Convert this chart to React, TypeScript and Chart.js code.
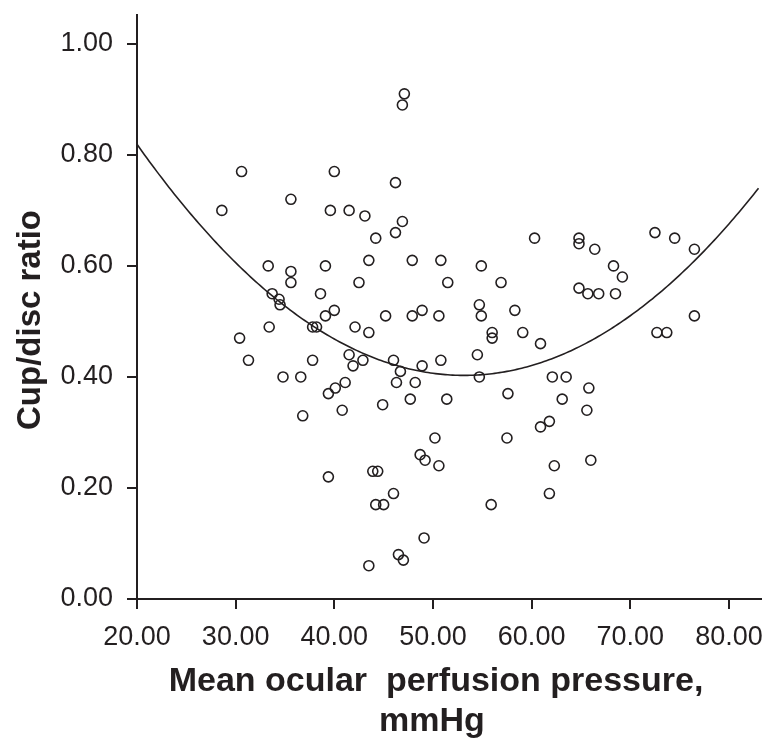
import { useEffect, useRef } from "react";
import { Chart, registerables } from "chart.js";

Chart.register(...registerables);

// Mean ocular perfusion pressure (mmHg)
const pressure = [
  47.1, 46.9, 30.6, 40.0, 46.2, 28.6, 35.6, 39.6, 41.5, 43.1,
  46.9, 46.2, 44.2, 33.3, 35.6, 35.6, 39.1, 43.5, 47.9, 50.8,
  42.5, 51.5, 33.7, 34.4, 34.5, 38.6, 39.1, 40.0, 45.2, 47.9,
  48.9, 50.6, 72.5, 74.5, 76.5, 60.3, 64.8, 64.8, 66.4, 68.3,
  69.2, 64.8, 65.7, 66.8, 68.5, 54.9, 56.9, 54.7, 54.9, 58.3,
  76.5, 30.4, 33.4, 31.3, 37.8, 38.2, 42.1, 43.5, 37.8, 41.5,
  42.9, 41.9, 46.0, 46.7, 48.9, 50.8, 34.8, 36.6, 39.4, 40.1,
  41.1, 46.3, 48.2, 47.7, 44.9, 40.8, 36.8, 51.4, 50.2, 48.7,
  49.2, 50.6, 39.4, 43.9, 44.4, 46.0, 44.2, 45.0, 49.1, 46.5,
  47.0, 43.5, 56.0, 56.0, 59.1, 60.9, 72.7, 73.7, 54.5, 54.7,
  62.1, 63.5, 65.8, 57.6, 63.1, 65.6, 61.8, 60.9, 57.5, 62.3,
  66.0, 61.8, 55.9,
];

// Cup/disc ratio
const cupDisc = [
  0.91, 0.89, 0.77, 0.77, 0.75, 0.70, 0.72, 0.70, 0.70, 0.69,
  0.68, 0.66, 0.65, 0.60, 0.59, 0.57, 0.60, 0.61, 0.61, 0.61,
  0.57, 0.57, 0.55, 0.54, 0.53, 0.55, 0.51, 0.52, 0.51, 0.51,
  0.52, 0.51, 0.66, 0.65, 0.63, 0.65, 0.65, 0.64, 0.63, 0.60,
  0.58, 0.56, 0.55, 0.55, 0.55, 0.60, 0.57, 0.53, 0.51, 0.52,
  0.51, 0.47, 0.49, 0.43, 0.49, 0.49, 0.49, 0.48, 0.43, 0.44,
  0.43, 0.42, 0.43, 0.41, 0.42, 0.43, 0.40, 0.40, 0.37, 0.38,
  0.39, 0.39, 0.39, 0.36, 0.35, 0.34, 0.33, 0.36, 0.29, 0.26,
  0.25, 0.24, 0.22, 0.23, 0.23, 0.19, 0.17, 0.17, 0.11, 0.08,
  0.07, 0.06, 0.48, 0.47, 0.48, 0.46, 0.48, 0.48, 0.44, 0.40,
  0.40, 0.40, 0.38, 0.37, 0.36, 0.34, 0.32, 0.31, 0.29, 0.24,
  0.25, 0.19, 0.17,
];

const xTicks = [20, 30, 40, 50, 60, 70, 80];
const yTicks = [0, 0.2, 0.4, 0.6, 0.8, 1.0];

// Quadratic fit line: y = c0 + c1*x + c2*x^2
const fitCoefficients = [1.4726, -0.04025, 0.0003786];
const fitRange = [20, 83.1];

const xTitleLines = ["Mean ocular  perfusion pressure,", "mmHg"];
const yTitle = "Cup/disc ratio";

const INK = "#231f20";
const FONT = '"Liberation Sans", Arial, Helvetica, sans-serif';

export default function App() {
  const canvasRef = useRef<HTMLCanvasElement | null>(null);

  useEffect(() => {
    const canvas = canvasRef.current;
    if (!canvas) return;

    const points = pressure.map((x, i) => ({ x, y: cupDisc[i] }));
    const curve: { x: number; y: number }[] = [];
    for (let x = fitRange[0]; x <= fitRange[1] + 1e-9; x += 0.25) {
      curve.push({
        x,
        y: fitCoefficients[0] + fitCoefficients[1] * x + fitCoefficients[2] * x * x,
      });
    }

    const titlePlugin = {
      id: "axisTitles",
      afterDraw(chart: any) {
        const ctx = chart.ctx as CanvasRenderingContext2D;
        ctx.save();
        ctx.fillStyle = INK;
        ctx.font = `bold 34px ${FONT}`;
        ctx.textAlign = "center";
        ctx.textBaseline = "alphabetic";
        ctx.fillText(xTitleLines[0], 436, 691);
        ctx.fillText(xTitleLines[1], 432, 731);
        ctx.font = `bold 33px ${FONT}`;
        ctx.translate(40, 320);
        ctx.rotate(-Math.PI / 2);
        ctx.fillText(yTitle, 0, 0);
        ctx.restore();
      },
    };

    const chart = new Chart(canvas, {
      type: "scatter",
      data: {
        datasets: [
          {
            type: "scatter",
            label: "Cup/disc ratio",
            data: points,
            pointStyle: "circle",
            pointRadius: 5,
            pointBorderWidth: 1.6,
            pointBackgroundColor: "rgba(255,255,255,0)",
            pointBorderColor: INK,
            order: 2,
          },
          {
            type: "line",
            label: "Quadratic fit",
            data: curve,
            borderColor: INK,
            borderWidth: 1.6,
            pointRadius: 0,
            fill: false,
            tension: 0,
            order: 1,
          } as any,
        ],
      },
      plugins: [titlePlugin],
      options: {
        animation: false,
        responsive: false,
        maintainAspectRatio: false,
        layout: { padding: { top: 15, right: 16, left: 0, bottom: 0 } },
        plugins: {
          legend: { display: false },
          tooltip: { enabled: false },
        },
        scales: {
          x: {
            type: "linear",
            min: 20,
            max: 83.25,
            afterBuildTicks: (s: any) => {
              s.ticks = xTicks.map((v) => ({ value: v }));
            },
            afterFit: (s: any) => {
              s.height = 155;
              s.paddingLeft = 0;
              s.paddingRight = 0;
            },
            border: { display: true, color: INK, width: 2 },
            grid: {
              drawOnChartArea: false,
              drawTicks: true,
              tickLength: 10,
              color: INK,
              lineWidth: 2,
            },
            ticks: {
              color: INK,
              font: { family: FONT, size: 27 },
              padding: 12,
              maxRotation: 0,
              autoSkip: false,
              includeBounds: false,
              callback: (v: any) => Number(v).toFixed(2),
            },
          },
          y: {
            type: "linear",
            min: 0,
            max: 1.052,
            afterBuildTicks: (s: any) => {
              s.ticks = yTicks.map((v) => ({ value: v }));
            },
            afterFit: (s: any) => {
              s.width = 137;
              s.paddingTop = 0;
              s.paddingBottom = 0;
            },
            border: { display: true, color: INK, width: 2 },
            grid: {
              drawOnChartArea: false,
              drawTicks: true,
              tickLength: 10,
              color: INK,
              lineWidth: 2,
            },
            ticks: {
              color: INK,
              font: { family: FONT, size: 27 },
              padding: 14,
              autoSkip: false,
              includeBounds: false,
              callback: (v: any) => Number(v).toFixed(2),
            },
          },
        },
      } as any,
    });

    return () => chart.destroy();
  }, []);

  return (
    <div
      style={{
        position: "fixed",
        left: 0,
        top: 0,
        width: 777,
        height: 754,
        background: "#ffffff",
      }}
    >
      <canvas ref={canvasRef} width={777} height={754} style={{ display: "block" }} />
    </div>
  );
}
